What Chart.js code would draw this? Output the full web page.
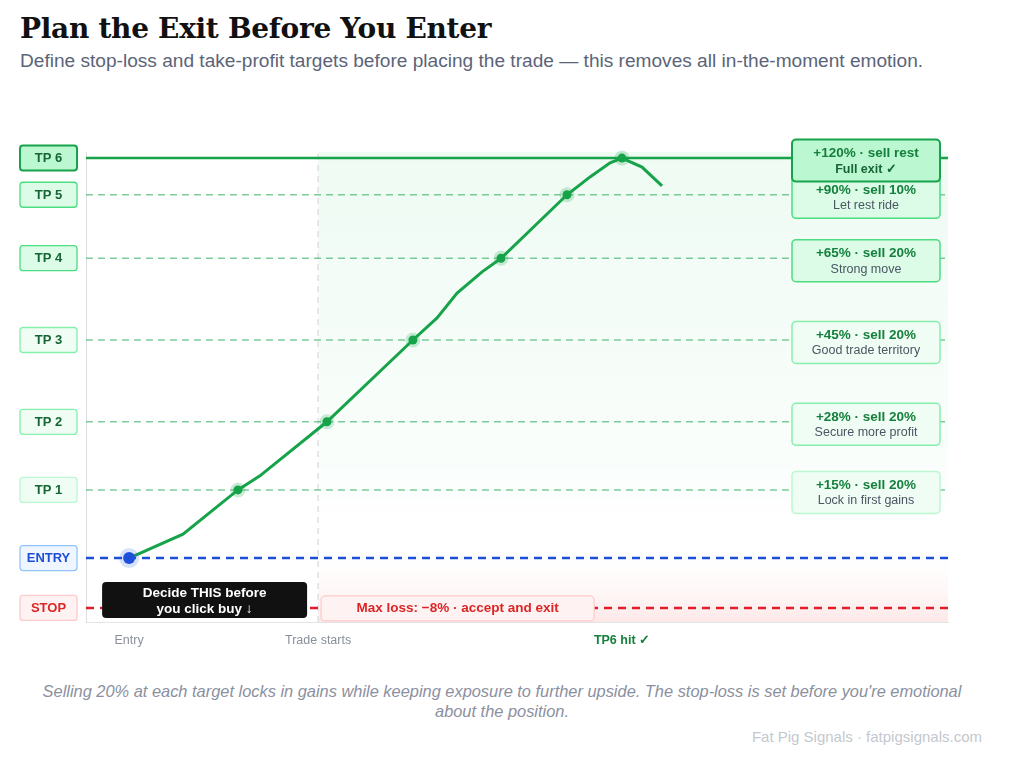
<!DOCTYPE html>
<html>
<head>
<meta charset="utf-8">
<script src="https://cdn.jsdelivr.net/npm/chart.js@4.4.1/dist/chart.umd.min.js"></script>
<style>
  html, body { margin: 0; padding: 0; background: #fff; }
  body { width: 1024px; height: 768px; position: relative; overflow: hidden; font-family: "Liberation Sans", Arial, sans-serif; }
  h1 { position: absolute; left: 20px; top: 12px; margin: 0; font: bold 28px "DejaVu Serif", Georgia, serif; color: #111; letter-spacing: -0.3px; }
  .sub { position: absolute; left: 20px; top: 50px; margin: 0; font-size: 19.1px; color: #5b6478; }
  #wrap { position: absolute; left: 0; top: 100px; width: 1024px; height: 560px; }
  .cap { position: absolute; left: 32px; top: 681px; width: 940px; margin: 0; text-align: center; font-style: italic; font-size: 16.4px; line-height: 20px; color: #8b90a0; }
  .foot { position: absolute; right: 42px; top: 728px; margin: 0; font-size: 15px; color: #c4c7ce; }
</style>
</head>
<body>
<h1>Plan the Exit Before You Enter</h1>
<p class="sub">Define stop-loss and take-profit targets before placing the trade — this removes all in-the-moment emotion.</p>
<div id="wrap"><canvas id="c"></canvas></div>
<p class="cap">Selling 20% at each target locks in gains while keeping exposure to further upside. The stop-loss is set before you're emotional about the position.</p>
<p class="foot">Fat Pig Signals · fatpigsignals.com</p>
<script>
// price path (chart units)
const pathX = [2.0, 4.5, 7.05, 8.07, 11.18, 15.17, 16.29, 17.22, 18.38, 19.26, 22.32, 23.39, 24.32, 24.87, 25.8, 26.73];
const pathY = [13.6, 18.7, 28.1, 31.1, 42.6, 60.0, 64.7, 70.0, 74.5, 77.4, 90.9, 94.7, 97.7, 98.7, 96.8, 92.8];
const hitIdx = [2, 4, 5, 9, 10, 13];

// levels, bottom to top
const levelNames = ["STOP", "ENTRY", "TP 1", "TP 2", "TP 3", "TP 4", "TP 5", "TP 6"];
const levelY = [3.0, 13.6, 28.1, 42.6, 60.0, 77.4, 90.9, 98.7];

// target notes (TP1..TP6)
const targetPct = ["+15%", "+28%", "+45%", "+65%", "+90%", "+120%"];
const targetSell = ["sell 20%", "sell 20%", "sell 20%", "sell 20%", "sell 10%", "sell rest"];
const targetNote = ["Lock in first gains", "Secure more profit", "Good trade territory", "Strong move", "Let rest ride", "Full exit ✓"];
const stopText = "Max loss: −8% · accept and exit";
const entryNote = ["Decide THIS before", "you click buy ↓"];

// x axis
const tickX = [2.0, 10.77, 24.87];
const tickLabels = ["Entry", "Trade starts", "TP6 hit ✓"];
const tradeStartX = 10.77;
const xMin = 0, xMax = 40;

Chart.defaults.font.family = '"Liberation Sans", Arial, sans-serif';

const green = "#16a34a";
const tpStyle = [
    { fill: "#f0fdf4", border: "#bbf7d0" },
    { fill: "#f0fdf4", border: "#86efac" },
    { fill: "#f0fdf4", border: "#86efac" },
    { fill: "#dcfce7", border: "#4ade80" },
    { fill: "#dcfce7", border: "#4ade80" },
    { fill: "#bbf7d0", border: "#16a34a" }
];

const rrect = (ctx, x, y, w, h, r) => {
    ctx.beginPath();
    ctx.moveTo(x + r, y);
    ctx.arcTo(x + w, y, x + w, y + h, r);
    ctx.arcTo(x + w, y + h, x, y + h, r);
    ctx.arcTo(x, y + h, x, y, r);
    ctx.arcTo(x, y, x + w, y, r);
    ctx.closePath();
};

const levelLine = (y, color, width, dash) => ({
    data: [{ x: xMin, y: y }, { x: xMax, y: y }],
    borderColor: color,
    borderWidth: width,
    borderDash: dash,
    pointRadius: 0,
    order: 2
});

let datasets = [{
    data: pathX.map((x, i) => ({ x: x, y: pathY[i] })),
    borderColor: green,
    borderWidth: 3,
    tension: 0,
    clip: false,
    order: 0,
    pointRadius: (c) => c.dataIndex === 0 ? 6 : hitIdx.includes(c.dataIndex) ? 4.5 : 0,
    pointBorderWidth: (c) => c.dataIndex === 0 ? 8 : 6,
    pointBackgroundColor: (c) => c.dataIndex === 0 ? "#1d4ed8" : green,
    pointBorderColor: (c) => c.dataIndex === 0 ? "rgba(37,99,235,0.18)" : "rgba(22,163,74,0.22)"
}];
datasets.push(levelLine(levelY[0], "#e11d2a", 2.5, [8, 6]));
datasets.push(levelLine(levelY[1], "#1d4ed8", 2.5, [8, 6]));
for (let i = 2; i < 7; i++) {
    datasets.push(levelLine(levelY[i], "rgba(22,163,74,0.55)", 1.5, [7, 5]));
}
datasets.push(levelLine(levelY[7], green, 2.5, []));
datasets.push({
    data: [{ x: tradeStartX, y: 0 }, { x: tradeStartX, y: 100 }],
    borderColor: "#dedfe3",
    borderWidth: 1.5,
    borderDash: [6, 5],
    pointRadius: 0,
    order: 3
});

const decor = {
    id: "decor",
    beforeDatasetsDraw(chart) {
        const { ctx, chartArea: a, scales } = chart;
        const x0 = scales.x.getPixelForValue(tradeStartX);
        ctx.save();
        let g = ctx.createLinearGradient(0, a.top, 0, a.bottom);
        g.addColorStop(0, "rgba(34,197,94,0.075)");
        g.addColorStop(0.7, "rgba(34,197,94,0.02)");
        g.addColorStop(0.84, "rgba(255,255,255,0)");
        g.addColorStop(1, "rgba(239,68,68,0.13)");
        ctx.fillStyle = g;
        ctx.fillRect(x0, a.top, a.right - x0, a.bottom - a.top);
        ctx.restore();
    },
    afterDatasetsDraw(chart) {
        const { ctx, chartArea: a, scales } = chart;
        const y = (v) => scales.y.getPixelForValue(v);
        ctx.save();
        ctx.textAlign = "center";
        ctx.textBaseline = "middle";

        // right-hand target notes
        for (let i = 0; i < 6; i++) {
            const cy = y(levelY[i + 2]) + 2.5;
            const bx = a.right - 156, bw = 148, bh = 42;
            rrect(ctx, bx, cy - bh / 2, bw, bh, 4);
            ctx.fillStyle = tpStyle[i].fill;
            ctx.fill();
            ctx.lineWidth = i === 5 ? 2 : 1.5;
            ctx.strokeStyle = tpStyle[i].border;
            ctx.stroke();
            ctx.fillStyle = "#15803d";
            ctx.font = "bold 13.5px 'Liberation Sans', Arial";
            ctx.fillText(targetPct[i] + " · " + targetSell[i], bx + bw / 2, cy - 7);
            if (i === 5) {
                ctx.font = "bold 12.5px 'Liberation Sans', Arial";
                ctx.fillStyle = "#166534";
            } else {
                ctx.font = "12.5px 'Liberation Sans', Arial";
                ctx.fillStyle = "#4b5563";
            }
            ctx.fillText(targetNote[i], bx + bw / 2, cy + 8.5);
        }

        // entry reminder
        const ey = y(levelY[0]) - 8;
        const ex = scales.x.getPixelForValue(pathX[0]);
        rrect(ctx, ex - 27, ey - 18, 205, 36, 4);
        ctx.fillStyle = "#111";
        ctx.fill();
        ctx.fillStyle = "#fff";
        ctx.font = "bold 13.5px 'Liberation Sans', Arial";
        ctx.fillText(entryNote[0], ex - 27 + 102.5, ey - 7);
        ctx.fillText(entryNote[1], ex - 27 + 102.5, ey + 9);

        // stop note
        const sy = y(levelY[0]);
        const sx = scales.x.getPixelForValue(tradeStartX) + 3;
        rrect(ctx, sx, sy - 12, 273, 25, 4);
        ctx.fillStyle = "#fef2f2";
        ctx.fill();
        ctx.lineWidth = 1.2;
        ctx.strokeStyle = "#fecaca";
        ctx.stroke();
        ctx.fillStyle = "#dc2626";
        ctx.font = "bold 13.5px 'Liberation Sans', Arial";
        ctx.fillText(stopText, sx + 136.5, sy + 0.5);
        ctx.restore();
    },
    afterDraw(chart) {
        const { ctx, scales } = chart;
        ctx.save();
        ctx.textAlign = "center";
        ctx.textBaseline = "middle";
        ctx.font = "bold 13px 'Liberation Sans', Arial";
        for (let i = 0; i < levelNames.length; i++) {
            const cy = scales.y.getPixelForValue(levelY[i]);
            let fill, border, text;
            if (i === 0) { fill = "#fef2f2"; border = "#fecaca"; text = "#dc2626"; }
            else if (i === 1) { fill = "#eff6ff"; border = "#93c5fd"; text = "#1d4ed8"; }
            else { fill = tpStyle[i - 2].fill; border = tpStyle[i - 2].border; text = "#166534"; }
            rrect(ctx, 20, cy - 12.5, 57, 25, 3);
            ctx.fillStyle = fill;
            ctx.fill();
            ctx.lineWidth = i === 7 ? 2 : 1.3;
            ctx.strokeStyle = border;
            ctx.stroke();
            ctx.fillStyle = text;
            ctx.fillText(levelNames[i], 48.5, cy + 0.5);
        }
        ctx.restore();
    }
};

new Chart(document.getElementById("c"), {
    type: "line",
    data: { datasets: datasets },
    options: {
        responsive: true,
        maintainAspectRatio: false,
        animation: false,
        layout: { padding: { left: 86, right: 76, top: 52, bottom: 0 } },
        plugins: { legend: { display: false }, tooltip: { enabled: false } },
        scales: {
            x: {
                type: "linear",
                min: xMin,
                max: xMax,
                grid: { display: false },
                border: { display: true, color: "#e3e5e9", width: 1 },
                afterBuildTicks: (s) => { s.ticks = tickX.map(v => ({ value: v })); },
                afterFit: (s) => { s.height = 38; },
                ticks: {
                    autoSkip: false,
                    maxRotation: 0,
                    padding: 3,
                    callback: (v, i) => tickLabels[i],
                    color: (c) => c.index === 2 ? "#15803d" : "#8a8f9c",
                    font: (c) => ({ size: 12.5, weight: c.index === 2 ? "bold" : "normal" })
                }
            },
            y: {
                type: "linear",
                min: 0,
                max: 100,
                grid: { display: false },
                border: { display: true, color: "#dcdee2", width: 1 },
                ticks: { display: false },
                afterFit: (s) => { s.width = 0; }
            }
        }
    },
    plugins: [decor]
});
</script>
</body>
</html>
